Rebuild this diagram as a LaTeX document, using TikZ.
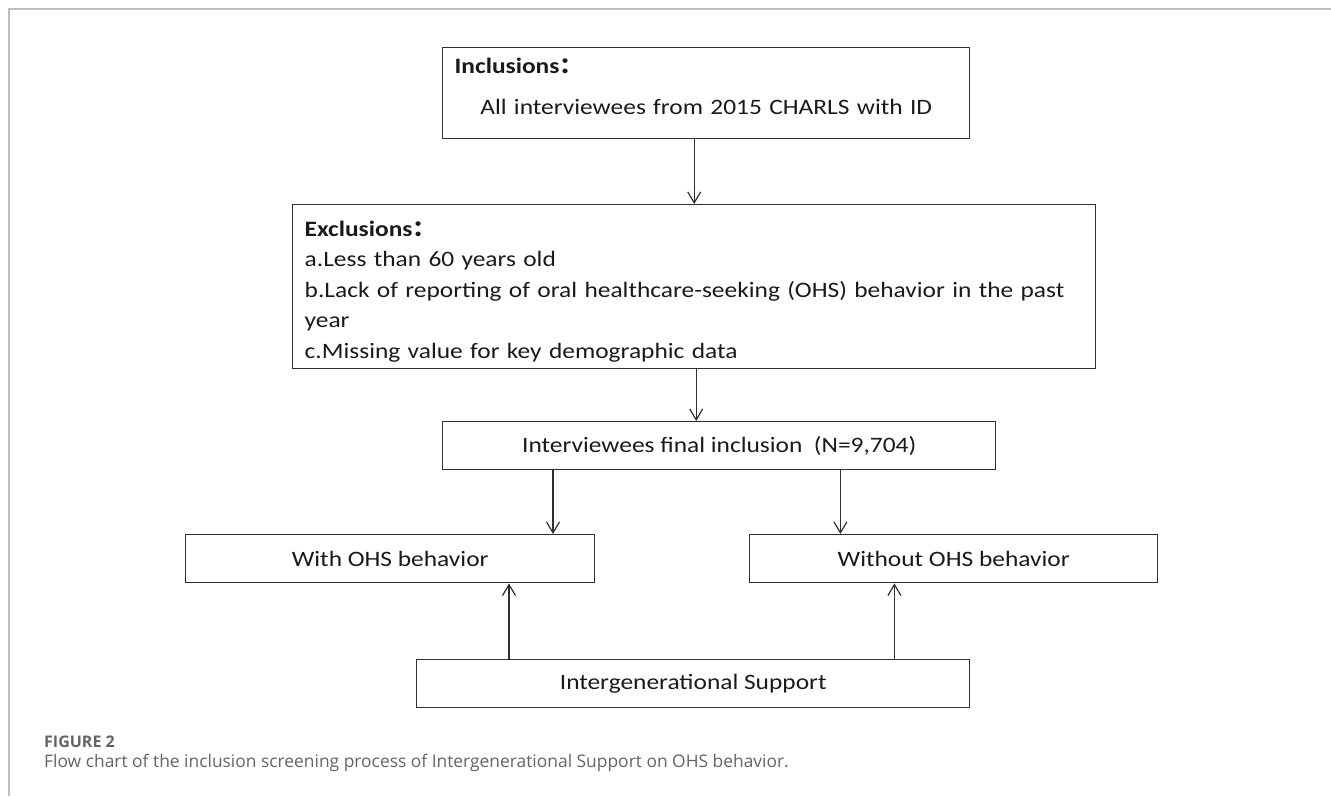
\documentclass[tikz,border=0pt]{standalone}
\usepackage{fontspec}
\setmainfont{Carlito}[FakeStretch=1.155]
\newfontfamily\cjk{Noto Sans CJK SC}[FakeStretch=1.1]
\newfontfamily\capfont{Open Sans}
\usetikzlibrary{arrows.meta,calc}
\definecolor{boxline}{HTML}{303030}
\definecolor{boxtext}{HTML}{1A1A1A}
\definecolor{frame}{HTML}{BDBDBD}
\definecolor{captext}{HTML}{646464}
\tikzset{
	box/.style={draw=boxline, line width=1.4pt, inner sep=0pt, anchor=north west,
		minimum height=48pt, text=boxtext, font=\fontsize{22}{26}\selectfont},
	arr/.style={draw=boxline, line width=1.2pt, -{Straight Barb[length=11pt,width=13pt]}},
}
\newcommand{\fwcolon}{{\cjk ：}}

\begin{document}
\begin{tikzpicture}[x=1pt, y=-1pt]
		%%%%% START %%%%%
		\useasboundingbox (0,0) rectangle (1331,796);
		\draw[frame, line width=1.2pt] (9,796) -- (9,9) -- (1331,9);
		
		\node[box, minimum height=91pt, text width=503pt, inner xsep=12pt, align=left,
			font=\fontsize{22}{41}\selectfont] (incl) at (442,47)
			{\textbf{Inclusions\fwcolon}\\ \makebox[503pt]{All interviewees from 2015 CHARLS with ID}\rule[-14pt]{0pt}{0pt}};
		
		\node[box, minimum height=164pt, text width=779pt, inner xsep=12pt, align=left,
			font=\fontsize{22}{30.5}\selectfont] (excl) at (292,204)
			{\rule{0pt}{25pt}\textbf{Exclusions\fwcolon}\\
			a.Less than 60 years old\\
			b.Lack of reporting of oral healthcare-seeking (OHS) behavior in the past\\
			year\\
			c.Missing value for key demographic data};
		
		\node[box, minimum width=553pt] (final) at (442,421) {Interviewees final inclusion\ \ (N=9,704)};
		
		\node[box, minimum width=409pt] (with) at (185,534) {With OHS behavior};
		\node[box, minimum width=408pt] (without) at (749,534) {Without OHS behavior};
		
		\node[box, minimum width=553pt] (igs) at (416,659) {Intergenerational Support};
		
		\draw[arr] (excl.north |- incl.south) -- (excl.north);
		\draw[arr] ([xshift=2pt]excl.south) -- ([xshift=2pt]excl.south |- final.north);
		\draw[arr] ([xshift=111pt]final.south west) -- ([xshift=111pt]final.south west |- with.north);
		\draw[arr] ([xshift=-156pt]final.south east) -- ([xshift=-156pt]final.south east |- without.north);
		\draw[arr] ([xshift=93pt]igs.north west) -- ([xshift=93pt]igs.north west |- with.south);
		\draw[arr] ([xshift=-76pt]igs.north east) -- ([xshift=-76pt]igs.north east |- without.south);
		
		\node[anchor=west, inner sep=0pt, text=captext, font=\capfont\bfseries\fontsize{16}{19}\selectfont] (fig) at (44,742) {FIGURE 2};
		\node[anchor=west, inner sep=0pt, text=captext, font=\capfont\fontsize{17.4}{20}\selectfont] (cap) at (44,763)
			{Flow chart of the inclusion screening process of Intergenerational Support on OHS behavior.};
		%%%%% END %%%%%
\end{tikzpicture}
\end{document}
